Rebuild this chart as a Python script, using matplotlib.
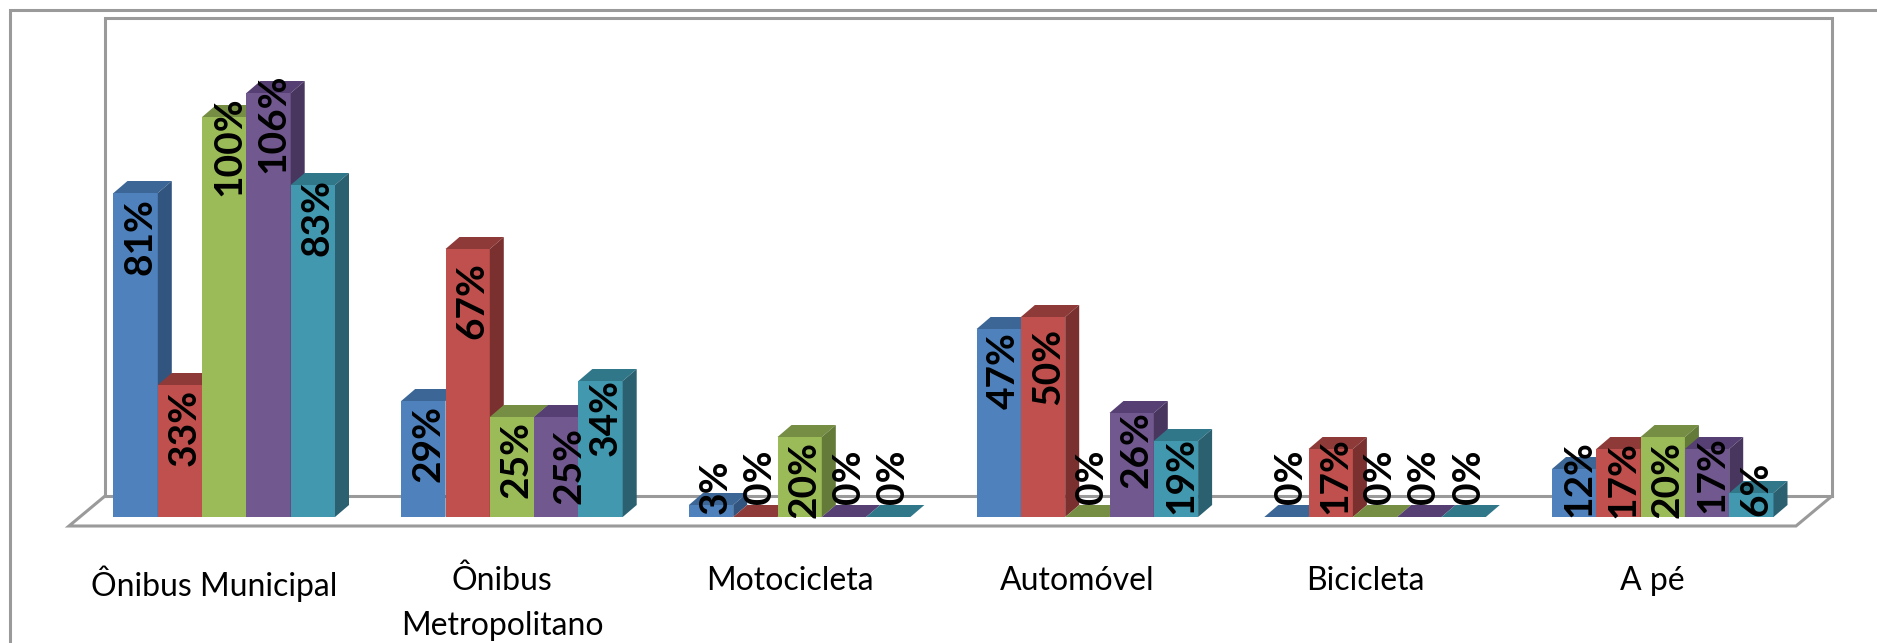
import matplotlib
matplotlib.use("Agg")
import matplotlib.pyplot as plt
from matplotlib.patches import Polygon

categorias = ["Ônibus Municipal", "Ônibus\nMetropolitano", "Motocicleta", "Automóvel", "Bicicleta", "A pé"]

serie1 = [81, 29, 3, 47, 0, 12]
serie2 = [33, 67, 0, 50, 17, 17]
serie3 = [100, 25, 20, 0, 0, 20]
serie4 = [106, 25, 0, 26, 0, 17]
serie5 = [83, 34, 0, 19, 0, 6]
series = [serie1, serie2, serie3, serie4, serie5]

# deslocamento do rotulo (centro) abaixo do topo da barra, em px
desloc1 = [44, 42, -18, 42, -40, 10]
desloc2 = [42, 52, -40, 49, 27, 31]
desloc3 = [29, 42, 42, -40, -40, 42]
desloc4 = [30, 49, -40, 37, -40, 26]
desloc5 = [33, 36, -40, 34, -40, -4]
deslocs = [desloc1, desloc2, desloc3, desloc4, desloc5]

frente = ["#4F81BD", "#C0504D", "#9BBB59", "#71588F", "#4198AF"]
topo = ["#3C6696", "#8E3A38", "#758E44", "#563F73", "#31778A"]
lado = ["#325580", "#7A302F", "#637A39", "#49365F", "#2A6070"]

W, H = 1877, 643
PX_X = 287.7   # px por categoria
PX_Y = 4.0     # px por ponto percentual
X0 = 224.25    # centro da primeira categoria
Y0 = 517       # base das barras
cinza = "#9A9A9A"

fig = plt.figure(figsize=(W / 100, H / 100), dpi=100)
ax = fig.add_axes([0, 0, 1, 1])
ax.set_xlim(-X0 / PX_X, (W - X0) / PX_X)
ax.set_ylim(-(H - Y0) / PX_Y, Y0 / PX_Y)
ax.axis("off")

larg = 44.3 / PX_X
dx = 14 / PX_X
dy = 12 / PX_Y


def px(x, y):
    # px da imagem -> dados, so para a moldura e o piso
    return (x - X0) / PX_X, (Y0 - y) / PX_Y


# moldura externa
ax.plot(*zip(px(10, 643), px(10, 10), px(1877, 10)), color=cinza, lw=2.2, solid_joinstyle="miter")
# parede do fundo e piso
ax.plot(*zip(px(105, 496), px(105, 18), px(1832, 18), px(1832, 496)), color=cinza, lw=2.2, solid_joinstyle="miter")
ax.plot(*zip(px(105, 496), px(1832, 496)), color=cinza, lw=2.2)
ax.plot(*zip(px(105, 496), px(69, 526), px(1796, 526), px(1832, 496)), color=cinza, lw=2.2, solid_joinstyle="miter")

for i in range(len(categorias)):
    for j, s in enumerate(series):
        x = i + (j - 2.5) * larg
        v = s[i]
        z = 3 + i + j * 0.1
        ax.bar(x, v, larg, align="edge", color=frente[j], zorder=z)
        ax.add_patch(Polygon([(x, v), (x + dx, v + dy), (x + larg + dx, v + dy), (x + larg, v)],
                             facecolor=topo[j], edgecolor="none", zorder=z))
        ax.add_patch(Polygon([(x + larg, 0), (x + larg + dx, dy), (x + larg + dx, v + dy), (x + larg, v)],
                             facecolor=lado[j], edgecolor="none", zorder=z))

for i in range(len(categorias)):
    for j, s in enumerate(series):
        x = i + (j - 2) * larg + 4.5 / PX_X
        if (i, j) == (1, 3):
            x += 8 / PX_X   # esse rotulo esta mais a direita no original
        ax.text(x, s[i] - deslocs[j][i] / PX_Y, f"{s[i]}%", rotation=90, ha="center", va="center",
                family="Lato", fontweight="bold", fontsize=28, color="black", zorder=20)
    ax.text(i - 10 / PX_X, -49 / PX_Y, categorias[i], ha="center", va="top",
            family="Lato", fontsize=23, color="black", linespacing=1.62, zorder=20)

fig.savefig("out.png", dpi=100)
